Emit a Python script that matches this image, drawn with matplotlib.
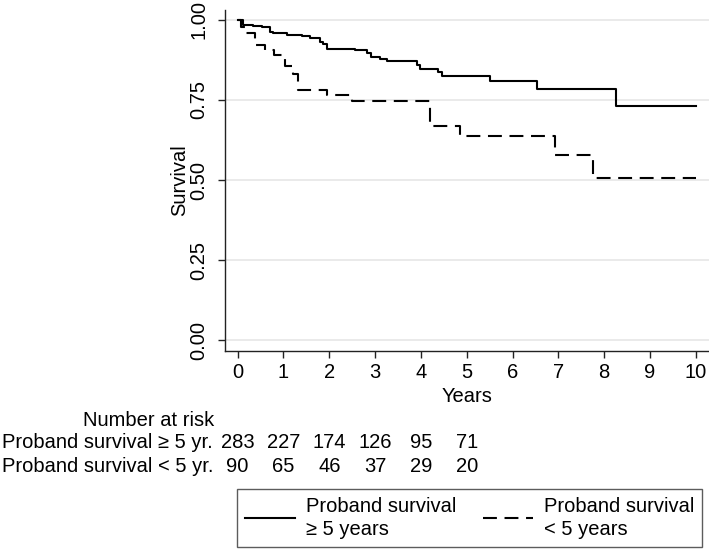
import matplotlib
matplotlib.use('Agg')
from matplotlib import pyplot as plt
from matplotlib import transforms as mtransforms

# --- data ---
years_ge5 = [0.00, 0.12, 0.34, 0.52, 0.70, 0.78, 1.07, 1.40, 1.58, 1.80, 1.87, 1.96,
             2.56, 2.82, 2.90, 3.11, 3.25, 3.91, 3.98, 4.38, 4.45, 5.51, 6.53, 8.25, 10.0]
surv_ge5 = [1.000, 0.984, 0.981, 0.977, 0.963, 0.958, 0.953, 0.950, 0.943, 0.932, 0.924, 0.910,
            0.906, 0.898, 0.885, 0.879, 0.872, 0.859, 0.847, 0.838, 0.826, 0.809, 0.784, 0.732, 0.732]

years_lt5 = [0.00, 0.08, 0.17, 0.38, 0.60, 0.80, 1.03, 1.20, 1.32, 1.94, 2.49, 4.20,
             4.85, 6.93, 7.76, 10.0]
surv_lt5 = [1.000, 0.978, 0.958, 0.922, 0.906, 0.890, 0.856, 0.830, 0.781, 0.764, 0.748, 0.669,
            0.638, 0.577, 0.505, 0.505]

risk_times = [0, 1, 2, 3, 4, 5]
risk_ge5 = [283, 227, 174, 126, 95, 71]
risk_lt5 = [90, 65, 46, 37, 29, 20]
risk_labels = ['Proband survival \u2265 5 yr.', 'Proband survival < 5 yr.']
legend_labels = ['Proband survival\n\u2265 5 years', 'Proband survival\n< 5 years']
x_ticks = list(range(0, 11))
y_ticks = [0.00, 0.25, 0.50, 0.75, 1.00]

plt.rcParams['font.family'] = ['Liberation Sans', 'DejaVu Sans']
plt.rcParams['lines.scale_dashes'] = False
FS = 14.5
W, H = 709, 549

fig = plt.figure(figsize=(W / 100, H / 100), dpi=100)
ax = fig.add_axes([225 / W, 1 - 351 / H, (709 - 225) / W, (351 - 10) / H])

ax.set_xlim(-0.277, 10.29)
ax.set_ylim(-0.034, 1.031)

ax.step(years_ge5, surv_ge5, where='post', color='black', lw=1.5,
        label=legend_labels[0])
ax.step(years_lt5, surv_lt5, where='post', color='black', lw=1.5,
        linestyle=(0, (10, 5.5)), label=legend_labels[1])

ax.set_yticks(y_ticks)
ax.set_yticklabels(['%.2f' % v for v in y_ticks])
ax.set_xticks(x_ticks)
ax.grid(axis='y', color='#e4e4e4', lw=1.1)
ax.set_axisbelow(True)
for s in ['top', 'right']:
    ax.spines[s].set_visible(False)
for s in ['left', 'bottom']:
    ax.spines[s].set_color('#222222')
    ax.spines[s].set_linewidth(1.0)
ax.tick_params(axis='both', length=5, width=1.0, color='#222222', labelsize=FS)
ax.tick_params(axis='x', pad=4)
ax.tick_params(axis='y', pad=7)
for lab in ax.get_yticklabels():
    lab.set_rotation(90)
    lab.set_va('center')
ax.set_xlabel('Years', fontsize=FS, labelpad=3)
ax.set_ylabel('Survival', fontsize=FS, labelpad=0)

# number at risk table
bt = mtransforms.blended_transform_factory(ax.transData, fig.transFigure)
fig.text(149 / W, 1 - 420 / H, 'Number at risk', fontsize=FS, ha='center', va='center')
for row, (lab, vals) in enumerate(zip(risk_labels, [risk_ge5, risk_lt5])):
    yy = 1 - (443 + 23.5 * row) / H
    fig.text(2 / W, yy, lab, fontsize=FS, ha='left', va='center')
    for t, v in zip(risk_times, vals):
        fig.text(t, yy, str(v), fontsize=FS, ha='center', va='center', transform=bt)

leg = fig.legend(loc='upper left', bbox_to_anchor=(237 / W, 1 - 489 / H), ncol=2,
                 fontsize=FS, frameon=True, fancybox=False, edgecolor='#333333',
                 handlelength=2.5, handletextpad=0.55, columnspacing=1.3,
                 borderpad=0.38, borderaxespad=0, labelspacing=0.2)
leg.get_frame().set_linewidth(1.0)
for t in leg.get_texts():
    t.set_linespacing(1.3)

fig.savefig('out.png', dpi=100)
